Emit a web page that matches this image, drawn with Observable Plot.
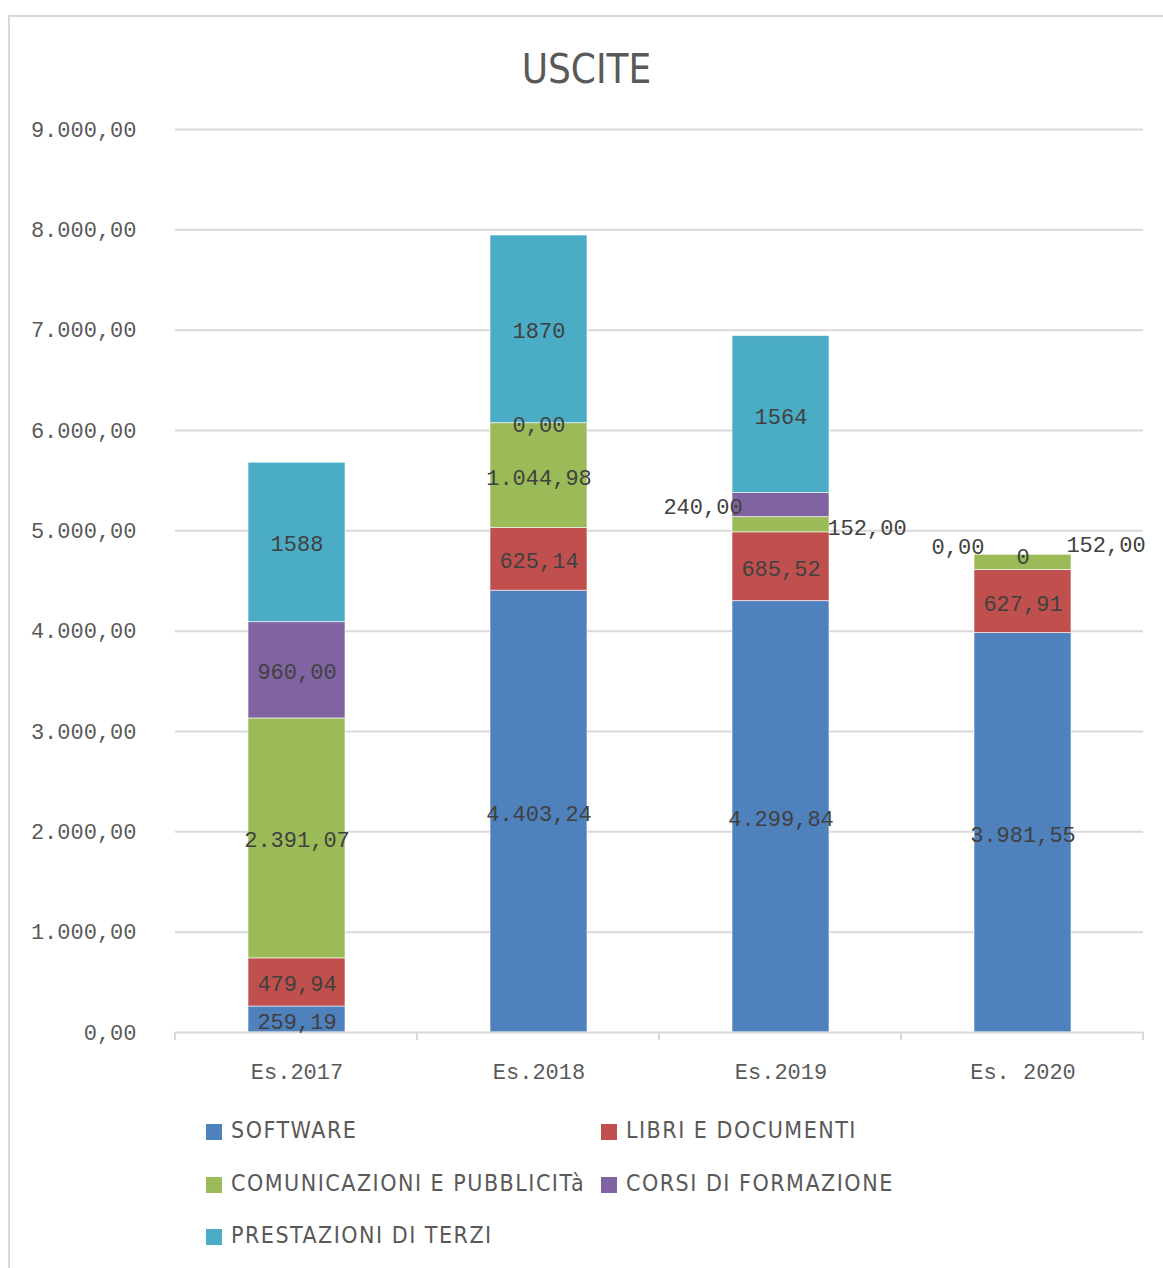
<!DOCTYPE html>
<html>
<head>
<meta charset="utf-8">
<script src="https://cdn.jsdelivr.net/npm/d3@7"></script>
<script src="https://cdn.jsdelivr.net/npm/@observablehq/plot@0.6"></script>
<style>
  html, body { margin: 0; padding: 0; background: #fff; }
  #frame { position: absolute; left: 8px; top: 15px; width: 1170px; height: 1270px; border: 2px solid #d9d9d9; box-sizing: border-box; }
  #title { position: absolute; left: 0; width: 1173px; top: 43px; text-align: center; font-family: "DejaVu Sans Condensed", "DejaVu Sans", sans-serif; font-stretch: condensed; font-size: 40px; color: #595959; line-height: 52px; }
  #chart { position: absolute; left: 0; top: 100px; }
  #legend { position: absolute; left: 206px; top: 1104px; display: grid; grid-template-columns: 395px 400px; row-gap: 0; font-family: "DejaVu Sans Condensed", "DejaVu Sans", sans-serif; font-stretch: condensed; font-size: 23px; letter-spacing: 1.5px; color: #595959; }
  .item { height: 52.5px; display: flex; align-items: center; white-space: nowrap; }
  .sw { width: 16px; height: 16px; margin-right: 9px; flex: none; margin-top: 4px; }
</style>
</head>
<body>
<div id="frame"></div>
<div id="title">USCITE</div>
<div id="chart"></div>
<div id="legend"></div>
<script>
// ---- data ----
const categories = ["Es.2017", "Es.2018", "Es.2019", "Es. 2020"];
const seriesNames = ["SOFTWARE", "LIBRI E DOCUMENTI", "COMUNICAZIONI E PUBBLICITà", "CORSI DI FORMAZIONE", "PRESTAZIONI DI TERZI"];
const software      = [259.19, 4403.24, 4299.84, 3981.55];
const libri         = [479.94, 625.14, 685.52, 627.91];
const comunicazioni = [2391.07, 1044.98, 152.00, 152.00];
const corsi         = [960.00, 0.00, 240.00, 0.00];
const prestazioni   = [1588, 1870, 1564, 0];
const yTicks = [0, 1000, 2000, 3000, 4000, 5000, 6000, 7000, 8000, 9000];
const colors = ["#4F81BD", "#C0504D", "#9BBB59", "#8064A2", "#4BACC6"];

const seriesValues = [software, libri, comunicazioni, corsi, prestazioni];
const data = [];
categories.forEach((c, i) => {
  seriesNames.forEach((s, j) => {
    data.push({category: c, series: s, value: seriesValues[j][i], integer: j === 4});
  });
});

const itLocale = d3.formatLocale({decimal: ",", thousands: ".", grouping: [3], currency: ["", "€"]});
const fmt2 = itLocale.format(",.2f");
const label = d => d.integer ? String(d.value) : fmt2(d.value);

// labels that were moved beside the bar in the original chart
const moved = [
  {category: "Es.2019", series: "CORSI DI FORMAZIONE", dx: -78, dy: 2},
  {category: "Es.2019", series: "COMUNICAZIONI E PUBBLICITà", dx: 86, dy: 3},
  {category: "Es. 2020", series: "CORSI DI FORMAZIONE", dx: -65, dy: -8},
  {category: "Es. 2020", series: "COMUNICAZIONI E PUBBLICITà", dx: 83, dy: -17}
];
const isMoved = d => moved.some(m => m.category === d.category && m.series === d.series);

const monoFont = "'Liberation Mono', 'DejaVu Sans Mono', monospace";

const boundaryTicks = (index, scales, values, dims) => {
  const g = d3.create("svg:g");
  const x0 = dims.marginLeft, x1 = dims.width - dims.marginRight;
  const yb = dims.height - dims.marginBottom;
  const n = categories.length;
  for (let i = 0; i <= n; i++) {
    const x = x0 + i * (x1 - x0) / n;
    g.append("line").attr("x1", x).attr("x2", x).attr("y1", yb).attr("y2", yb + 8)
      .attr("stroke", "#d9d9d9").attr("stroke-width", 2);
  }
  return g.node();
};

const textOpts = {fill: "#404040", fontSize: 22, fontFamily: monoFont, textAnchor: "middle", lineAnchor: "middle"};

const marks = [
  Plot.ruleY(yTicks.filter(t => t > 0), {stroke: "#d9d9d9", strokeWidth: 2}),
  Plot.barY(data, {x: "category", y: "value", fill: "series", stroke: "#ffffff", strokeOpacity: 0.6, strokeWidth: 1}),
  Plot.ruleY([0], {stroke: "#d9d9d9", strokeWidth: 2}),
  boundaryTicks,
  Plot.text(data, Plot.stackY({x: "category", y: "value", text: d => isMoved(d) ? "" : label(d), dy: 2, ...textOpts}))
];
moved.forEach(m => {
  marks.push(Plot.text(data, Plot.stackY({
    x: "category", y: "value",
    text: d => (d.category === m.category && d.series === m.series) ? label(d) : "",
    dx: m.dx, dy: m.dy, ...textOpts
  })));
});

const chart = Plot.plot({
  width: 1163,
  height: 1000,
  marginLeft: 175,
  marginRight: 20,
  marginTop: 29,
  marginBottom: 68,
  style: {background: "transparent", overflow: "visible"},
  x: {domain: categories, paddingInner: 0.6, paddingOuter: 0.3, label: null, tickSize: 0, tickPadding: 31, tickFormat: d => d},
  y: {domain: [0, 9000], ticks: yTicks, tickSize: 0, tickPadding: 39, tickFormat: fmt2, label: null},
  color: {domain: seriesNames, range: colors},
  marks: marks
});
chart.querySelectorAll("g[aria-label='x-axis tick label'], g[aria-label='y-axis tick label']").forEach(g => {
  g.setAttribute("font-family", monoFont);
  g.setAttribute("font-size", "22");
  g.setAttribute("fill", "#595959");
});
document.getElementById("chart").appendChild(chart);

const legend = document.getElementById("legend");
seriesNames.forEach((s, i) => {
  const item = document.createElement("div");
  item.className = "item";
  const sw = document.createElement("span");
  sw.className = "sw";
  sw.style.background = colors[i];
  const t = document.createElement("span");
  t.textContent = s;
  item.appendChild(sw);
  item.appendChild(t);
  legend.appendChild(item);
});
</script>
</body>
</html>
